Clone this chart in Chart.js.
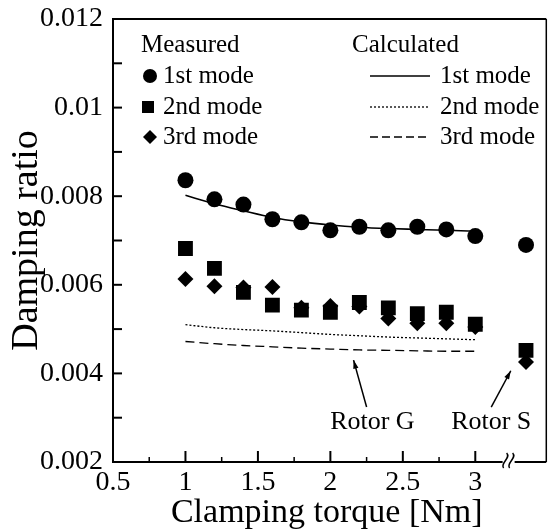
<!DOCTYPE html>
<html>
<head>
<meta charset="utf-8">
<script src="https://cdn.jsdelivr.net/npm/chart.js@4.4.1/dist/chart.umd.min.js"></script>
<style>
  body { margin: 0; background: #fff; }
  canvas { display: block; }
</style>
</head>
<body>
<canvas id="chart" width="551" height="531"></canvas>
<script>
// measured points (torque in Nm), last one is rotor S
const xMeasured = [1.0, 1.2, 1.4, 1.6, 1.8, 2.0, 2.2, 2.4, 2.6, 2.8, 3.0, 3.35]
const mode1 = [0.00836, 0.00793, 0.00781, 0.00748, 0.00741, 0.00723, 0.00731, 0.00723, 0.00731, 0.00725, 0.0071, 0.0069]
const mode2 = [0.00682, 0.00637, 0.00583, 0.00554, 0.00543, 0.00538, 0.0056, 0.00548, 0.00535, 0.00538, 0.00511, 0.00452]
const mode3 = [0.00613, 0.00597, 0.00594, 0.00595, 0.00548, 0.00552, 0.00551, 0.00524, 0.00513, 0.00513, 0.00505, 0.00426]

// calculated curves
const xCalc = [1.0, 1.2, 1.4, 1.6, 1.8, 2.0, 2.2, 2.4, 2.6, 2.8, 3.0]
const calc1 = [0.00802, 0.00783, 0.00767, 0.00752, 0.00742, 0.00735, 0.0073, 0.00727, 0.00725, 0.00723, 0.00721]
const calc2 = [0.0051, 0.00503, 0.00499, 0.00496, 0.00492, 0.00488, 0.00485, 0.00482, 0.0048, 0.00478, 0.00476]
const calc3 = [0.00472, 0.00467, 0.00463, 0.0046, 0.00457, 0.00455, 0.00453, 0.00452, 0.00451, 0.0045, 0.0045]

// axes
const xTicks = [0.5, 1, 1.5, 2, 2.5, 3]
const xMinorTicks = [0.75, 1.25, 1.75, 2.25, 2.75]
const yTicks = [0.002, 0.004, 0.006, 0.008, 0.01, 0.012]
const yMinorTicks = [0.003, 0.005, 0.007, 0.009, 0.011]
const xBreak = 3.23
const xFrameRight = 3.49   // the right frame of the original sits a bit past the chart area

const FONT = "'Liberation Serif', 'DejaVu Serif', serif"

function pts(xs, ys) {
    return xs.map((x, i) => ({x: x, y: ys[i]}))
}

function line(ctx, x1, y1, x2, y2) {
    ctx.beginPath()
    ctx.moveTo(x1, y1)
    ctx.lineTo(x2, y2)
    ctx.stroke()
}

function arrow(ctx, x1, y1, x2, y2) {
    line(ctx, x1, y1, x2, y2)
    let ang = Math.atan2(y2 - y1, x2 - x1)
    ctx.beginPath()
    ctx.moveTo(x2, y2)
    ctx.lineTo(x2 - 9 * Math.cos(ang - 0.3), y2 - 9 * Math.sin(ang - 0.3))
    ctx.lineTo(x2 - 9 * Math.cos(ang + 0.3), y2 - 9 * Math.sin(ang + 0.3))
    ctx.closePath()
    ctx.fill()
}

const extras = {
    id: 'extras',
    afterDraw(chart) {
        const ctx = chart.ctx
        const a = chart.chartArea
        const xs = chart.scales.x, ys = chart.scales.y
        const right = xs.getPixelForValue(xFrameRight)
        ctx.save()
        ctx.strokeStyle = '#000'
        ctx.fillStyle = '#000'

        // frame: bottom axis continued, top and right
        ctx.lineWidth = 2
        line(ctx, a.right - 1, a.bottom, right, a.bottom)
        line(ctx, a.left, a.top, right, a.top)
        ctx.lineWidth = 1.5
        line(ctx, right, a.top, right, a.bottom)

        // inward ticks
        ctx.lineWidth = 2
        yTicks.concat(yMinorTicks).forEach(v => {
            let y = ys.getPixelForValue(v)
            line(ctx, a.left, y, a.left + 9, y)
        })
        xTicks.slice(1).forEach(v => {
            let x = xs.getPixelForValue(v)
            line(ctx, x, a.bottom, x, a.bottom - 11)
        })
        ctx.lineWidth = 1.5
        xMinorTicks.forEach(v => {
            let x = xs.getPixelForValue(v)
            line(ctx, x, a.bottom, x, a.bottom - 5)
        })

        // axis break
        let bx = xs.getPixelForValue(xBreak)
        ctx.fillStyle = '#fff'
        ctx.fillRect(bx - 6, a.bottom - 3, 12, 6)
        ctx.fillStyle = '#000'
        ctx.lineWidth = 1.5
        ;[-3, 3].forEach(d => {
            ctx.beginPath()
            ctx.moveTo(bx + d - 2, a.bottom + 6)
            ctx.bezierCurveTo(bx + d - 6, a.bottom + 1, bx + d + 6, a.bottom - 4, bx + d + 1, a.bottom - 9)
            ctx.stroke()
        })

        // rotor labels with arrows
        ctx.font = '26px ' + FONT
        ctx.textAlign = 'center'
        ctx.textBaseline = 'middle'
        ctx.fillText('Rotor G', xs.getPixelForValue(2.29), ys.getPixelForValue(0.0029))
        ctx.fillText('Rotor S', xs.getPixelForValue(3.11), ys.getPixelForValue(0.0029))
        ctx.lineWidth = 1.5
        arrow(ctx, xs.getPixelForValue(2.25), ys.getPixelForValue(0.00324), xs.getPixelForValue(2.16), ys.getPixelForValue(0.0043))
        arrow(ctx, xs.getPixelForValue(3.11), ys.getPixelForValue(0.00324), xs.getPixelForValue(3.245), ys.getPixelForValue(0.00406))

        // legend, two columns
        ctx.font = '25px ' + FONT
        ctx.textAlign = 'left'
        ctx.fillText('Measured', 141, 45)
        ctx.fillText('Calculated', 352, 45)
        const rows = [76, 107, 137]
        const names = ['1st mode', '2nd mode', '3rd mode']
        ctx.beginPath(); ctx.arc(150, rows[0], 7, 0, Math.PI * 2); ctx.fill()
        ctx.fillRect(142, rows[1] - 6, 12, 12)
        ctx.beginPath()
        ctx.moveTo(150, rows[2] - 7); ctx.lineTo(157, rows[2]); ctx.lineTo(150, rows[2] + 7); ctx.lineTo(143, rows[2])
        ctx.closePath(); ctx.fill()
        names.forEach((n, i) => {
            ctx.fillText(n, 163, rows[i])
            ctx.fillText(n, 440, rows[i])
        })
        const dashes = [[], [2, 2], [8, 4]]
        dashes.forEach((d, i) => {
            ctx.setLineDash(d)
            ctx.lineWidth = i == 0 ? 1.5 : 1.3
            line(ctx, 370, rows[i], 430, rows[i])
        })
        ctx.setLineDash([])
        ctx.restore()
    }
}

new Chart(document.getElementById('chart'), {
    type: 'scatter',
    data: {
        datasets: [
            {label: 'calc 1st', data: pts(xCalc, calc1), showLine: true, borderColor: '#000', borderWidth: 1.6, pointRadius: 0, cubicInterpolationMode: 'monotone'},
            {label: 'calc 2nd', data: pts(xCalc, calc2), showLine: true, borderColor: '#000', borderWidth: 1.3, borderDash: [2, 2], pointRadius: 0, cubicInterpolationMode: 'monotone'},
            {label: 'calc 3rd', data: pts(xCalc, calc3), showLine: true, borderColor: '#000', borderWidth: 1.3, borderDash: [9, 5], pointRadius: 0, cubicInterpolationMode: 'monotone'},
            {label: '1st mode', data: pts(xMeasured, mode1), pointStyle: 'circle', pointRadius: 8, backgroundColor: '#000', borderColor: '#000', borderWidth: 0},
            {label: '3rd mode', data: pts(xMeasured, mode3), pointStyle: 'rectRot', pointRadius: 8, backgroundColor: '#000', borderColor: '#000', borderWidth: 0},
            {label: '2nd mode', data: pts(xMeasured, mode2), pointStyle: 'rect', pointRadius: 10.5, backgroundColor: '#000', borderColor: '#000', borderWidth: 0}
        ]
    },
    options: {
        responsive: false,
        animation: false,
        layout: {padding: {top: 19, right: 3, left: 0, bottom: 0}},
        plugins: {
            legend: {display: false},
            tooltip: {enabled: false}
        },
        scales: {
            x: {
                type: 'linear',
                min: 0.5,
                max: 3.45,
                afterBuildTicks: s => { s.ticks = xTicks.map(v => ({value: v})) },
                afterFit: s => { s.height = 69; s.paddingLeft = 0; s.paddingRight = 0 },
                grid: {display: false, drawTicks: false, tickLength: 0},
                border: {display: true, color: '#000', width: 2},
                ticks: {color: '#000', padding: 4, maxRotation: 0, font: {family: FONT, size: 28}, callback: v => String(v)},
                title: {display: true, text: 'Clamping torque [Nm]', color: '#000', padding: {top: 0, bottom: 1}, font: {family: FONT, size: 34, lineHeight: 1.0}}
            },
            y: {
                min: 0.002,
                max: 0.012,
                afterBuildTicks: s => { s.ticks = yTicks.map(v => ({value: v})) },
                afterFit: s => { s.width = 113; s.paddingTop = 0; s.paddingBottom = 0 },
                grid: {display: false, drawTicks: false, tickLength: 0},
                border: {display: true, color: '#000', width: 2},
                ticks: {color: '#000', padding: 10, font: {family: FONT, size: 28}, callback: v => Number(v.toFixed(3)).toString()},
                title: {display: true, text: 'Damping ratio', color: '#000', padding: {top: 4, bottom: 0}, font: {family: FONT, size: 38}}
            }
        }
    },
    plugins: [extras]
})
</script>
</body>
</html>
